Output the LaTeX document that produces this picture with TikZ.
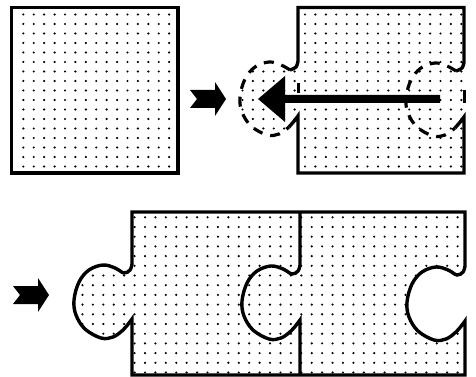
\documentclass[tikz,border=0pt]{standalone}
\begin{document}
\begin{tikzpicture}[x=1pt,y=-1pt,
  edge/.style={line width=3.4pt},
  dashedge/.style={line width=3.2pt, dash pattern=on 10pt off 8pt},
  blob/.style={fill=black},
  dotstyle/.style={fill=black}]
\useasboundingbox (0,0) rectangle (476,377);
\newcommand{\mydotgrid}[2]{\foreach \xx in {#1} {\foreach \yy in {#2} {\fill[dotstyle] (\xx,\yy) circle[radius=1.2pt];}}}

% ---------- top-left square ----------
\begin{scope}
\clip (11.5,7.5) rectangle (178,173);
\mydotgrid{23.3,33.72,...,176}{14.5,24,...,172}
\end{scope}
\draw[edge] (11.5,7.5) rectangle (178,173);

% ---------- fat arrow (top) ----------
\fill[blob] (190,90) -- (215,90) -- (215,82) -- (226,99) -- (215,116) -- (215,108) -- (190,108) -- (197,99) -- cycle;

% ---------- top-right square with dashed tab and hole ----------
\begin{scope}
\clip (298,7.5) -- (464,7.5) -- (464,173) -- (298,173) -- (298,116)
  -- plot[smooth,tension=.6] coordinates {(298,116) (295,120) (289,127) (279,134) (267,135) (251,126) (242,112) (240,97) (245,79) (255,67) (269,62) (281,65) (290,70) (296,67) (298,61)} -- cycle;
\mydotgrid{242.5,252.92,...,463}{14.5,24,...,172}
\end{scope}
% solid outline with small notches
\draw[edge] plot[smooth,tension=.6] coordinates {(290,70) (296,67) (298,61)} -- (298,7.5) -- (464,7.5) -- (464,62)
  -- plot[smooth,tension=.6] coordinates {(464,62) (462,68) (456,71)};
\draw[edge] plot[smooth,tension=.6] coordinates {(455,128) (461,121) (464,117)} -- (464,173) -- (298,173) -- (298,116)
  -- plot[smooth,tension=.6] coordinates {(298,116) (295,120) (289,127)};
% dashed tab (left) and dashed hole (right)
\draw[dashedge] plot[smooth,tension=.6] coordinates {(290,70) (281,65) (269,62) (255,67) (245,79) (240,97) (242,112) (251,126) (267,135) (279,134) (289,127)};
\draw[dashedge] plot[smooth,tension=.6] coordinates {(456,71) (447,66) (435,63) (421,68) (411,80) (406,98) (408,113) (417,127) (433,136) (445,135) (455,128)};
\draw[line width=3pt] (298,83) -- (298,93);
\draw[line width=3pt] (464,90) -- (464,103);
% big arrow
\fill[blob] (440,95) -- (285,95) -- (285,76) -- (258,99) -- (285,122) -- (285,103) -- (440,103) -- cycle;

% ---------- fat arrow (bottom) ----------
\fill[blob] (13,286) -- (38,286) -- (38,278) -- (49,295) -- (38,312) -- (38,304) -- (13,304) -- (20,295) -- cycle;

% ---------- bottom: two joined pieces ----------
\def\outline{(132,212) -- (465,212) -- (465,266)
  -- plot[smooth,tension=.6] coordinates {(465,266) (463,272) (457,275) (448,270) (436,267) (422,272) (412,284) (407,302) (409,317) (418,331) (434,340) (446,339) (456,332) (462,325) (465,321)}
  -- (465,375) -- (132,375) -- (132,319)
  -- plot[smooth,tension=.6] coordinates {(132,319) (129,323) (123,330) (113,337) (101,338) (85,329) (76,315) (74,300) (79,282) (89,270) (103,265) (115,268) (124,273) (130,270) (132,264)}
  -- cycle}
\begin{scope}
\clip \outline;
\mydotgrid{72.06,82.48,...,464}{217.3,227,...,374}
\end{scope}
\draw[edge] \outline;
\draw[edge] (300,212) -- (300,265)
  -- plot[smooth,tension=.6] coordinates {(300,265) (298,271) (292,274) (283,269) (271,266) (257,271) (247,283) (242,301) (244,316) (253,330) (269,339) (281,338) (291,331) (297,324) (300,320)}
  -- (300,375);
\end{tikzpicture}
\end{document}
